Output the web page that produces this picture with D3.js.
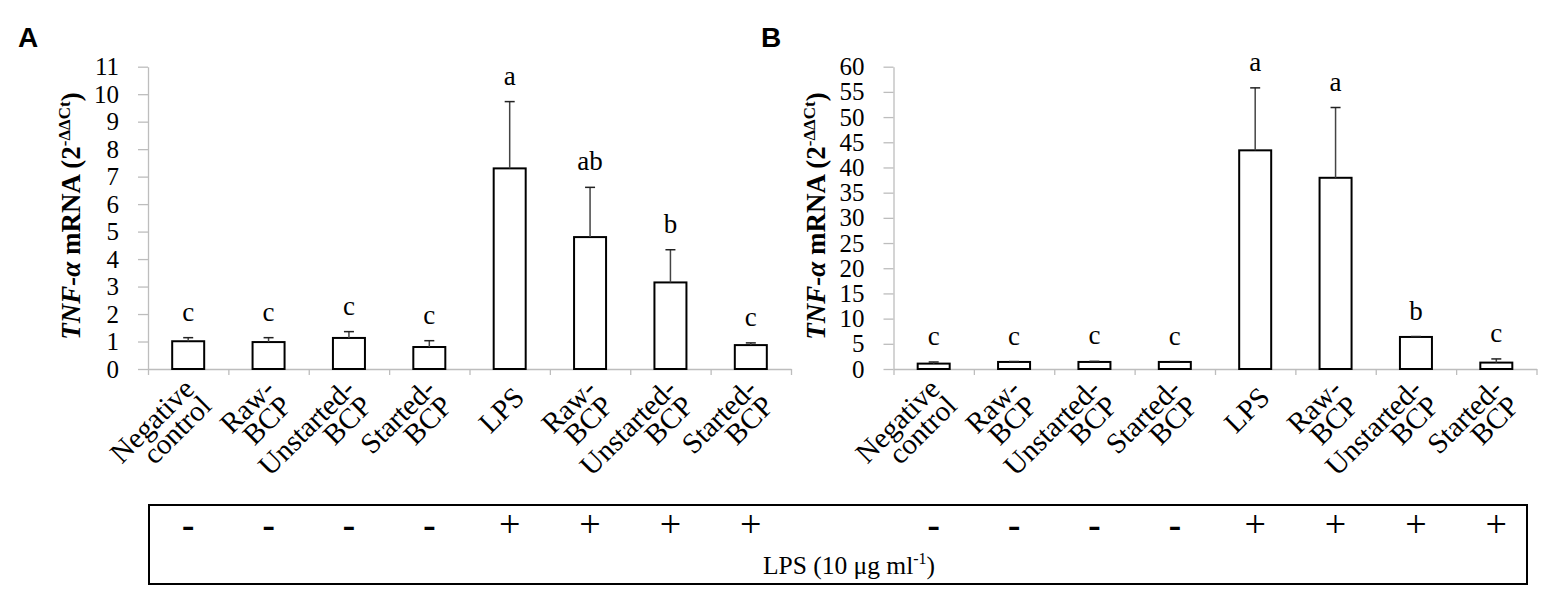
<!DOCTYPE html>
<html>
<head>
<meta charset="utf-8">
<script src="https://cdn.jsdelivr.net/npm/d3@7"></script>
<style>
  body { margin: 0; background: #fff; }
  svg { display: block; }
</style>
</head>
<body>
<div id="chart"></div>
<script>
// Group labels (same for both panels), split in the lines shown under the axis
const labelLines = [["Negative", "control"], ["Raw-", "BCP"], ["Unstarted-", "BCP"], ["Started-", "BCP"],
                    ["LPS"], ["Raw-", "BCP"], ["Unstarted-", "BCP"], ["Started-", "BCP"]];
const lpsSigns = ["-", "-", "-", "-", "+", "+", "+", "+"];

// Panel A
const valuesA = [1.01, 0.98, 1.13, 0.80, 7.30, 4.80, 3.15, 0.87];
const errA = [0.13, 0.16, 0.23, 0.23, 2.43, 1.81, 1.19, 0.08];
const lettersA = ["c", "c", "c", "c", "a", "ab", "b", "c"];
const yTicksA = [0, 1, 2, 3, 4, 5, 6, 7, 8, 9, 10, 11];

// Panel B
const valuesB = [1.07, 1.40, 1.40, 1.40, 43.4, 37.95, 6.36, 1.27];
const errB = [0.32, 0.08, 0.12, 0.08, 12.4, 13.95, 0.08, 0.73];
const lettersB = ["c", "c", "c", "c", "a", "a", "b", "c"];
const yTicksB = [0, 5, 10, 15, 20, 25, 30, 35, 40, 45, 50, 55, 60];

const WIDTH = 1562;
const HEIGHT = 608;
const Y_BOTTOM = 369;
const Y_TOP = 66.7;
const SERIF = "'Liberation Serif', 'DejaVu Serif', serif";
const SANS = "'Liberation Sans', Arial, sans-serif";
const AXIS_GREY = "#bdbdbd";

const svg = d3.select("#chart").append("svg")
  .attr("width", WIDTH).attr("height", HEIGHT)
  .style("background", "#fff");

function drawPanel(p) {
  let g = svg.append("g").classed("panel", true);
  let n = p.values.length;

  let xEdge = d3.scaleLinear().domain([0, n]).range([p.x0, p.x1]);
  let xCenter = i => xEdge(i + 0.5);
  let yScale = d3.scaleLinear().domain([0, p.yMax]).range([Y_BOTTOM, Y_TOP]);

  // y axis
  let yAxis = d3.axisLeft(yScale).tickValues(p.ticks).tickSize(10).tickSizeOuter(0).tickPadding(19);
  let ya = g.append("g").attr("transform", `translate(${p.x0},0)`).call(yAxis);
  ya.select(".domain").attr("stroke", AXIS_GREY).attr("stroke-width", 1.3);
  ya.selectAll(".tick line").attr("stroke", AXIS_GREY).attr("stroke-width", 1.3);
  ya.selectAll(".tick text").style("font-family", SERIF).style("font-size", "25px").attr("fill", "#000");

  // x axis, ticks between the categories
  let xAxis = d3.axisBottom(xEdge).tickValues(d3.range(0, n + 1)).tickSize(6).tickSizeOuter(0).tickFormat("");
  let xa = g.append("g").attr("transform", `translate(0,${Y_BOTTOM})`).call(xAxis);
  xa.select(".domain").attr("stroke", AXIS_GREY).attr("stroke-width", 1.3);
  xa.selectAll(".tick line").attr("stroke", AXIS_GREY).attr("stroke-width", 1.3);

  // bars
  const barW = 32;
  g.selectAll("rect.bar").data(p.values).enter().append("rect")
    .attr("class", "bar")
    .attr("x", (d, i) => xCenter(i) - barW / 2)
    .attr("y", d => yScale(d))
    .attr("width", barW)
    .attr("height", d => Y_BOTTOM - yScale(d))
    .attr("fill", "#fff")
    .attr("stroke", "#000")
    .attr("stroke-width", 2);

  // error bars (upper only)
  let eg = g.selectAll("g.err").data(p.values).enter().append("g").attr("class", "err");
  eg.append("line")
    .attr("x1", (d, i) => xCenter(i)).attr("x2", (d, i) => xCenter(i))
    .attr("y1", d => yScale(d)).attr("y2", (d, i) => yScale(d + p.err[i]))
    .attr("stroke", "#444").attr("stroke-width", 1.5);
  eg.append("line")
    .attr("x1", (d, i) => xCenter(i) - 5).attr("x2", (d, i) => xCenter(i) + 5)
    .attr("y1", (d, i) => yScale(d + p.err[i])).attr("y2", (d, i) => yScale(d + p.err[i]))
    .attr("stroke", "#222").attr("stroke-width", 1.5);

  // significance letters
  g.selectAll("text.letter").data(p.letters).enter().append("text")
    .attr("class", "letter")
    .attr("x", (d, i) => xCenter(i))
    .attr("y", (d, i) => yScale(p.values[i] + p.err[i]) - 17)
    .attr("text-anchor", "middle")
    .style("font-family", SERIF).style("font-size", "27px")
    .text(d => d);

  // rotated category labels
  const lineH = 24;
  labelLines.forEach((lines, i) => {
    let t = g.append("text")
      .attr("transform", `translate(${xCenter(i) + 9},${Y_BOTTOM + 23}) rotate(-45)`)
      .attr("text-anchor", "end")
      .style("font-family", SERIF).style("font-size", "29px");
    lines.forEach((s, k) => {
      t.append("tspan")
        .attr("x", 0)
        .attr("y", (k - (lines.length - 1) / 2) * lineH)
        .attr("dy", "0.35em")
        .text(s);
    });
  });

  // y axis title
  let title = g.append("text")
    .attr("transform", `translate(${p.titleX},216) rotate(-90)`)
    .attr("text-anchor", "middle")
    .style("font-family", SERIF).style("font-size", "27px").style("font-weight", "bold");
  title.append("tspan").style("font-style", "italic").text("TNF-α");
  title.append("tspan").text(" mRNA (2");
  title.append("tspan").style("font-size", "17px").attr("dy", -10).text("-ΔΔCt");
  title.append("tspan").attr("dy", 10).text(")");

  // panel letter
  svg.append("text")
    .attr("x", p.letterX).attr("y", 47)
    .style("font-family", SANS).style("font-size", "28px").style("font-weight", "bold")
    .text(p.name);

  // LPS signs inside the bottom box
  svg.append("g").selectAll("text").data(lpsSigns).enter().append("text")
    .attr("x", (d, i) => xCenter(i))
    .attr("y", d => d == "+" ? 537 : 539)
    .attr("text-anchor", "middle")
    .style("font-family", d => d == "+" ? SERIF : SANS)
    .style("font-size", d => d == "+" ? "38px" : "40px")
    .text(d => d);
}

drawPanel({ name: "A", values: valuesA, err: errA, letters: lettersA, ticks: yTicksA, yMax: 11,
            x0: 148, x1: 791, titleX: 80, letterX: 18 });
drawPanel({ name: "B", values: valuesB, err: errB, letters: lettersB, ticks: yTicksB, yMax: 60,
            x0: 893.5, x1: 1536.5, titleX: 825, letterX: 761 });

// bottom box with LPS treatment
svg.append("rect")
  .attr("x", 149).attr("y", 505)
  .attr("width", 1527 - 149).attr("height", 584 - 505)
  .attr("fill", "none").attr("stroke", "#000").attr("stroke-width", 2);

let lpsText = svg.append("text")
  .attr("x", 849).attr("y", 574)
  .attr("text-anchor", "middle")
  .style("font-family", SERIF).style("font-size", "25.5px");
lpsText.append("tspan").text("LPS (10 μg ml");
lpsText.append("tspan").style("font-size", "16px").attr("dy", -10).text("-1");
lpsText.append("tspan").attr("dy", 10).text(")");
</script>
</body>
</html>
